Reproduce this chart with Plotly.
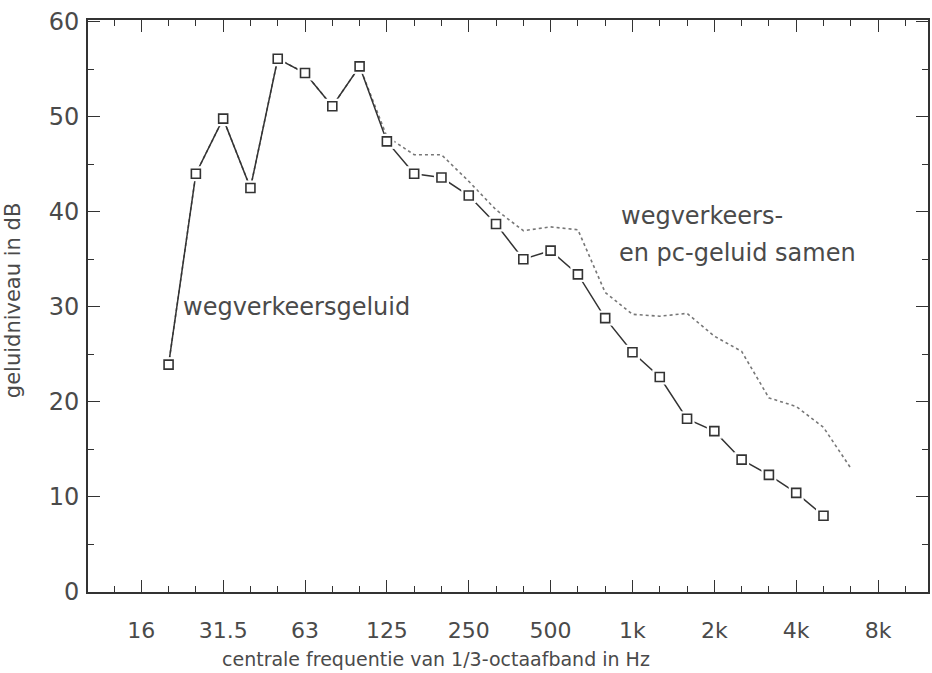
import plotly.graph_objects as go

# 1/3-octave band centre frequencies (axis categories)
bands = ["16", "20", "25", "31.5", "40", "50", "63", "80", "100", "125", "160", "200",
         "250", "315", "400", "500", "630", "800", "1k", "1.25k", "1.6k", "2k", "2.5k",
         "3.15k", "4k", "5k", "6.3k", "8k"]
octave_labels = ["16", "31.5", "63", "125", "250", "500", "1k", "2k", "4k", "8k"]

# road traffic noise (squares)
road_freq = ["20", "25", "31.5", "40", "50", "63", "80", "100", "125", "160", "200", "250",
             "315", "400", "500", "630", "800", "1k", "1.25k", "1.6k", "2k", "2.5k",
             "3.15k", "4k", "5k"]
road_db = [23.9, 44.0, 49.8, 42.5, 56.1, 54.6, 51.1, 55.3, 47.4, 44.0, 43.6, 41.7,
           38.7, 35.0, 35.9, 33.4, 28.8, 25.2, 22.6, 18.2, 16.9, 13.9, 12.3, 10.4, 8.0]

# road traffic + pc noise together (dotted)
comb_freq = ["20", "25", "31.5", "40", "50", "63", "80", "100", "125", "160", "200", "250",
             "315", "400", "500", "630", "800", "1k", "1.25k", "1.6k", "2k", "2.5k",
             "3.15k", "4k", "5k", "6.3k"]
comb_db = [23.9, 44.0, 49.8, 42.5, 56.1, 54.6, 51.1, 55.3, 47.9, 46.0, 46.0, 43.2,
           40.2, 38.0, 38.4, 38.1, 31.5, 29.2, 29.0, 29.3, 26.9, 25.3, 20.4, 19.5, 17.3, 13.0]

y_ticks = [0, 10, 20, 30, 40, 50, 60]

road_x = [bands.index(f) for f in road_freq]
comb_x = [bands.index(f) for f in comb_freq]
oct_x = [bands.index(f) for f in octave_labels]

INK = "#333333"
TXT = "#4a4a4a"
FONT = "DejaVu Sans"

fig = go.Figure()
fig.add_trace(go.Scatter(x=comb_x, y=comb_db, mode="lines",
                         line=dict(color="#777777", width=1.6, dash="dot"),
                         hoverinfo="skip"))
fig.add_trace(go.Scatter(x=road_x, y=road_db, mode="lines",
                         line=dict(color=INK, width=1.5)))
fig.add_trace(go.Scatter(x=road_x, y=road_db, mode="markers",
                         marker=dict(symbol="square", size=15, color="white",
                                     line=dict(width=0)), hoverinfo="skip"))
fig.add_trace(go.Scatter(x=road_x, y=road_db, mode="markers",
                         marker=dict(symbol="square", size=9, color="white",
                                     line=dict(color=INK, width=1.6))))

fig.update_layout(
    width=932, height=673,
    margin=dict(l=88, r=2, t=20, b=81),
    paper_bgcolor="white", plot_bgcolor="white",
    showlegend=False,
    font=dict(family=FONT, color=TXT),
    xaxis=dict(
        range=[-1.953, 28.83],
        tickmode="array", tickvals=oct_x, ticktext=octave_labels,
        ticks="inside", ticklen=12, tickwidth=1.3, tickcolor=INK,
        minor=dict(dtick=1, tick0=0, ticks="inside", ticklen=6, tickwidth=1.2, tickcolor=INK),
        showline=True, linecolor=INK, linewidth=1.6, mirror="ticks",
        showgrid=False, zeroline=False,
        tickfont=dict(family=FONT, size=22, color=TXT),
        ticklabelstandoff=18,
    ),
    yaxis=dict(
        range=[-0.03, 60.18],
        tickmode="array", tickvals=y_ticks,
        ticks="inside", ticklen=12, tickwidth=1.3, tickcolor=INK,
        minor=dict(dtick=5, tick0=0, ticks="inside", ticklen=6, tickwidth=1.2, tickcolor=INK),
        showline=True, linecolor=INK, linewidth=1.6, mirror="ticks",
        showgrid=False, zeroline=False,
        tickfont=dict(family=FONT, size=24, color=TXT),
        ticklabelstandoff=2,
    ),
    annotations=[
        dict(text="wegverkeersgeluid", x=1.47, y=30.0, xref="x", yref="y",
             xanchor="left", yanchor="middle", showarrow=False,
             font=dict(family=FONT, size=24, color=TXT)),
        dict(text="wegverkeers-", x=17.49, y=39.6, xref="x", yref="y",
             xanchor="left", yanchor="middle", showarrow=False,
             font=dict(family=FONT, size=24, color=TXT)),
        dict(text="en pc-geluid samen", x=17.42, y=35.7, xref="x", yref="y",
             xanchor="left", yanchor="middle", showarrow=False,
             font=dict(family=FONT, size=24, color=TXT)),
        dict(text="centrale frequentie van 1/3-octaafband in Hz",
             x=(437 - 88) / 842, y=-(659 - 592) / 572, xref="paper", yref="paper",
             xanchor="center", yanchor="middle", showarrow=False,
             font=dict(family=FONT, size=19, color=TXT)),
        dict(text="geluidniveau in dB", textangle=-90,
             x=(13 - 88) / 842, y=(592 - 301) / 572, xref="paper", yref="paper",
             xanchor="center", yanchor="middle", showarrow=False,
             font=dict(family=FONT, size=21, color=TXT)),
    ],
)

fig.write_html("out.html")
